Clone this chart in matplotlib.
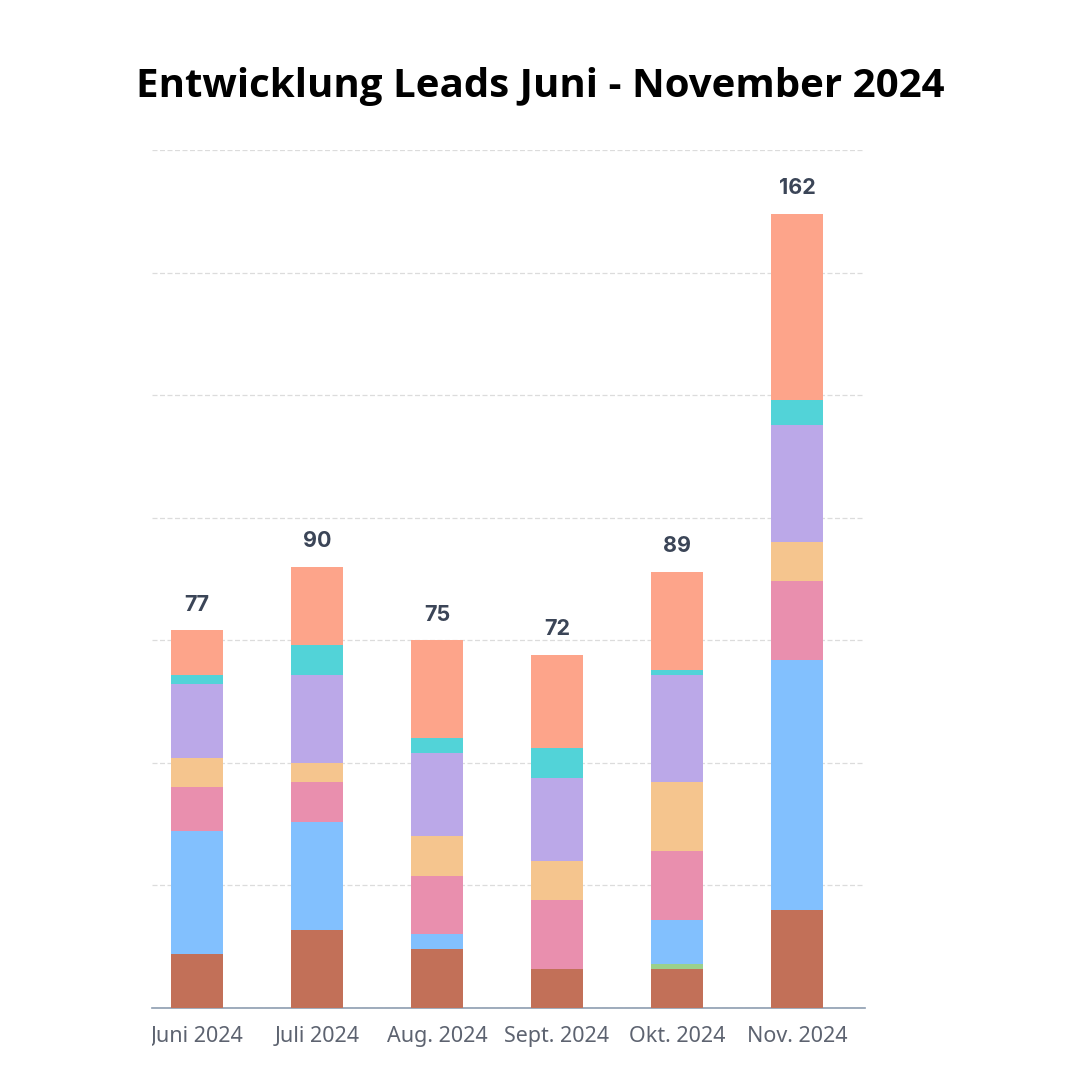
import matplotlib.pyplot as plt
from matplotlib.transforms import Bbox, TransformedBbox
import numpy as np

months = ['Juni 2024', 'Juli 2024', 'Aug. 2024', 'Sept. 2024', 'Okt. 2024', 'Nov. 2024']

# Segmente von unten nach oben
brown = [11, 16, 12, 8, 8, 20]
green = [0, 0, 0, 0, 1, 0]
blue = [25, 22, 3, 0, 9, 51]
pink = [9, 8, 12, 14, 14, 16]
tan = [6, 4, 8, 8, 14, 8]
purple = [15, 18, 17, 17, 22, 24]
cyan = [2, 6, 3, 6, 1, 5]
salmon = [9, 16, 20, 19, 20, 38]

series = [brown, green, blue, pink, tan, purple, cyan, salmon]
colors = ['#c27058', '#9bd08c', '#82c0fe', '#e98fae', '#f5c58e',
          '#bba8e8', '#52d3d8', '#fda48a']

fig = plt.figure(figsize=(10.8, 10.8), dpi=100)
ax = fig.add_axes([152 / 1080, 72 / 1080, 713 / 1080, 858 / 1080])

x = np.arange(len(months))
bottom = np.zeros(len(months))
for vals, c in zip(series, colors):
    ax.bar(x, vals, bottom=bottom, width=0.44, color=c, zorder=3)
    bottom += np.array(vals)

for xi, total in zip(x, bottom):
    ax.text(xi, total + 3.2, f'{int(total)}', ha='center', va='bottom',
            fontsize=15.5, fontweight='bold', color='#3b4557',
            family='Inter', zorder=4)

ax.set_xlim(-0.375, 5.567)
ax.set_ylim(0, 175)
ax.set_yticks(np.arange(0, 176, 25))
ax.set_yticklabels([])
ax.tick_params(axis='y', length=0)
ax.tick_params(axis='x', length=0, pad=13)
ax.yaxis.grid(True, color='#dcdcdc', linestyle=(0, (4, 2)), linewidth=0.9, zorder=0)

ax.set_xticks(x)
ax.set_xticklabels(months, fontsize=15.5, color='#5d6370', family='Noto Sans')

for side in ['top', 'left', 'right']:
    ax.spines[side].set_visible(False)
ax.spines['bottom'].set_color('#8d9db0')
ax.spines['bottom'].set_linewidth(1.2)

# linkes Label abschneiden wie im Original
clip = TransformedBbox(Bbox([[152 / 1080, 0], [1, 1]]), fig.transFigure)
first = ax.get_xticklabels()[0]
first.set_clip_box(clip)
first.set_clip_on(True)

fig.text(0.5, 1 - 87 / 1080, 'Entwicklung Leads Juni - November 2024',
         ha='center', va='center', fontsize=29, fontweight='bold',
         family='Open Sans', color='black')

fig.savefig('out.png', dpi=100, facecolor='white')
